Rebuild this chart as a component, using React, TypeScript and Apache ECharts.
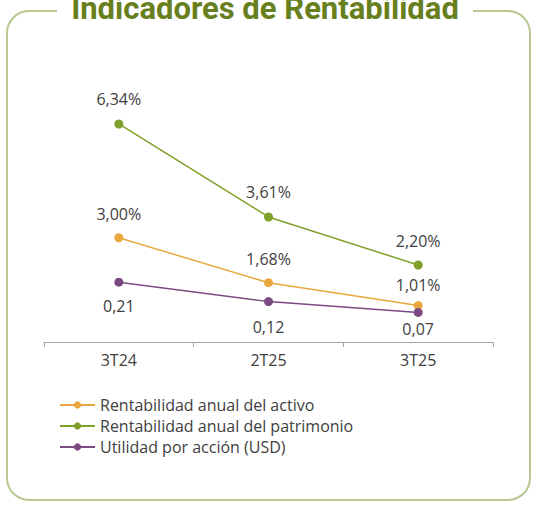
import React, { useEffect, useRef } from "react";
import * as echarts from "echarts";

const categories = ["3T24", "2T25", "3T25"];
const roa = [3.0, 1.68, 1.01];
const roe = [6.34, 3.61, 2.2];
const eps = [0.21, 0.12, 0.07];
const seriesNames = [
  "Rentabilidad anual del activo",
  "Rentabilidad anual del patrimonio",
  "Utilidad por acción (USD)",
];
const title = "Indicadores de Rentabilidad";

const fmt = (v: number, d: number) => v.toFixed(d).replace(".", ",");

export default function App() {
  const ref = useRef<HTMLDivElement>(null);
  useEffect(() => {
    const chart = echarts.init(ref.current!, null, { renderer: "svg" });
    const font = "'Open Sans', sans-serif";
    const labelStyle = { fontFamily: font, fontSize: 16, color: "#404040" };
    const epsOffsets = [11, 13, 4];
    const roaOffsets = [11, 11, 8];
    chart.setOption({
      animation: false,
      backgroundColor: "#ffffff",
      graphic: [
        {
          type: "rect",
          shape: { x: 7, y: 11, width: 523, height: 489, r: 22 },
          style: { fill: "none", stroke: "#b7c890", lineWidth: 2 },
          z: 1,
        },
        {
          type: "rect",
          shape: { x: 57, y: 0, width: 416, height: 22 },
          style: { fill: "#ffffff" },
          z: 2,
        },
        {
          type: "text",
          x: 265,
          y: 24,
          style: {
            text: title,
            fontFamily: "Roboto, sans-serif",
            fontWeight: "bold",
            fontSize: 31,
            fill: "#687f1e",
            align: "center",
            verticalAlign: "bottom",
          },
          z: 3,
        },
      ],
      grid: { left: 44, right: 43, top: 101.5, bottom: 164, containLabel: false },
      legend: {
        orient: "vertical",
        left: 59,
        top: 397,
        padding: 0,
        itemWidth: 35,
        itemHeight: 9,
        itemGap: 5,
        textStyle: { fontFamily: font, fontSize: 16, color: "#404040" },
        data: seriesNames,
      },
      xAxis: {
        type: "category",
        data: categories,
        boundaryGap: true,
        axisLine: { onZero: false, lineStyle: { color: "#a6a6a6", width: 1 } },
        axisTick: { show: true, length: 5, lineStyle: { color: "#a6a6a6" } },
        axisLabel: { ...labelStyle, margin: 10 },
      },
      yAxis: [
        { type: "value", min: -0.06, max: 7, show: false, splitLine: { show: false } },
        { type: "value", min: -0.0665, max: 1.0443, show: false, splitLine: { show: false } },
      ],
      series: [
        {
          name: seriesNames[0],
          type: "line",
          data: roa.map((v, i) => ({ value: v, label: { distance: roaOffsets[i] } })),
          yAxisIndex: 0,
          symbol: "circle",
          symbolSize: 9,
          color: "#e8a83e",
          lineStyle: { width: 1.5 },
          label: {
            show: true,
            position: "top",
            ...labelStyle,
            formatter: (p: any) => fmt(p.value, 2) + "%",
          },
        },
        {
          name: seriesNames[1],
          type: "line",
          data: roe,
          yAxisIndex: 0,
          symbol: "circle",
          symbolSize: 9,
          color: "#7fa02a",
          lineStyle: { width: 1.5 },
          label: {
            show: true,
            position: "top",
            distance: 12,
            ...labelStyle,
            formatter: (p: any) => fmt(p.value, 2) + "%",
          },
        },
        {
          name: seriesNames[2],
          type: "line",
          data: eps.map((v, i) => ({
            value: v,
            label: { distance: epsOffsets[i] },
          })),
          yAxisIndex: 1,
          symbol: "circle",
          symbolSize: 9,
          color: "#7b4a82",
          lineStyle: { width: 1.5 },
          label: {
            show: true,
            position: "bottom",
            ...labelStyle,
            formatter: (p: any) => fmt(p.value, 2),
          },
        },
      ],
    });
    return () => chart.dispose();
  }, []);
  return <div ref={ref} style={{ width: 536, height: 506, position: "absolute", left: 0, top: 0 }} />;
}
